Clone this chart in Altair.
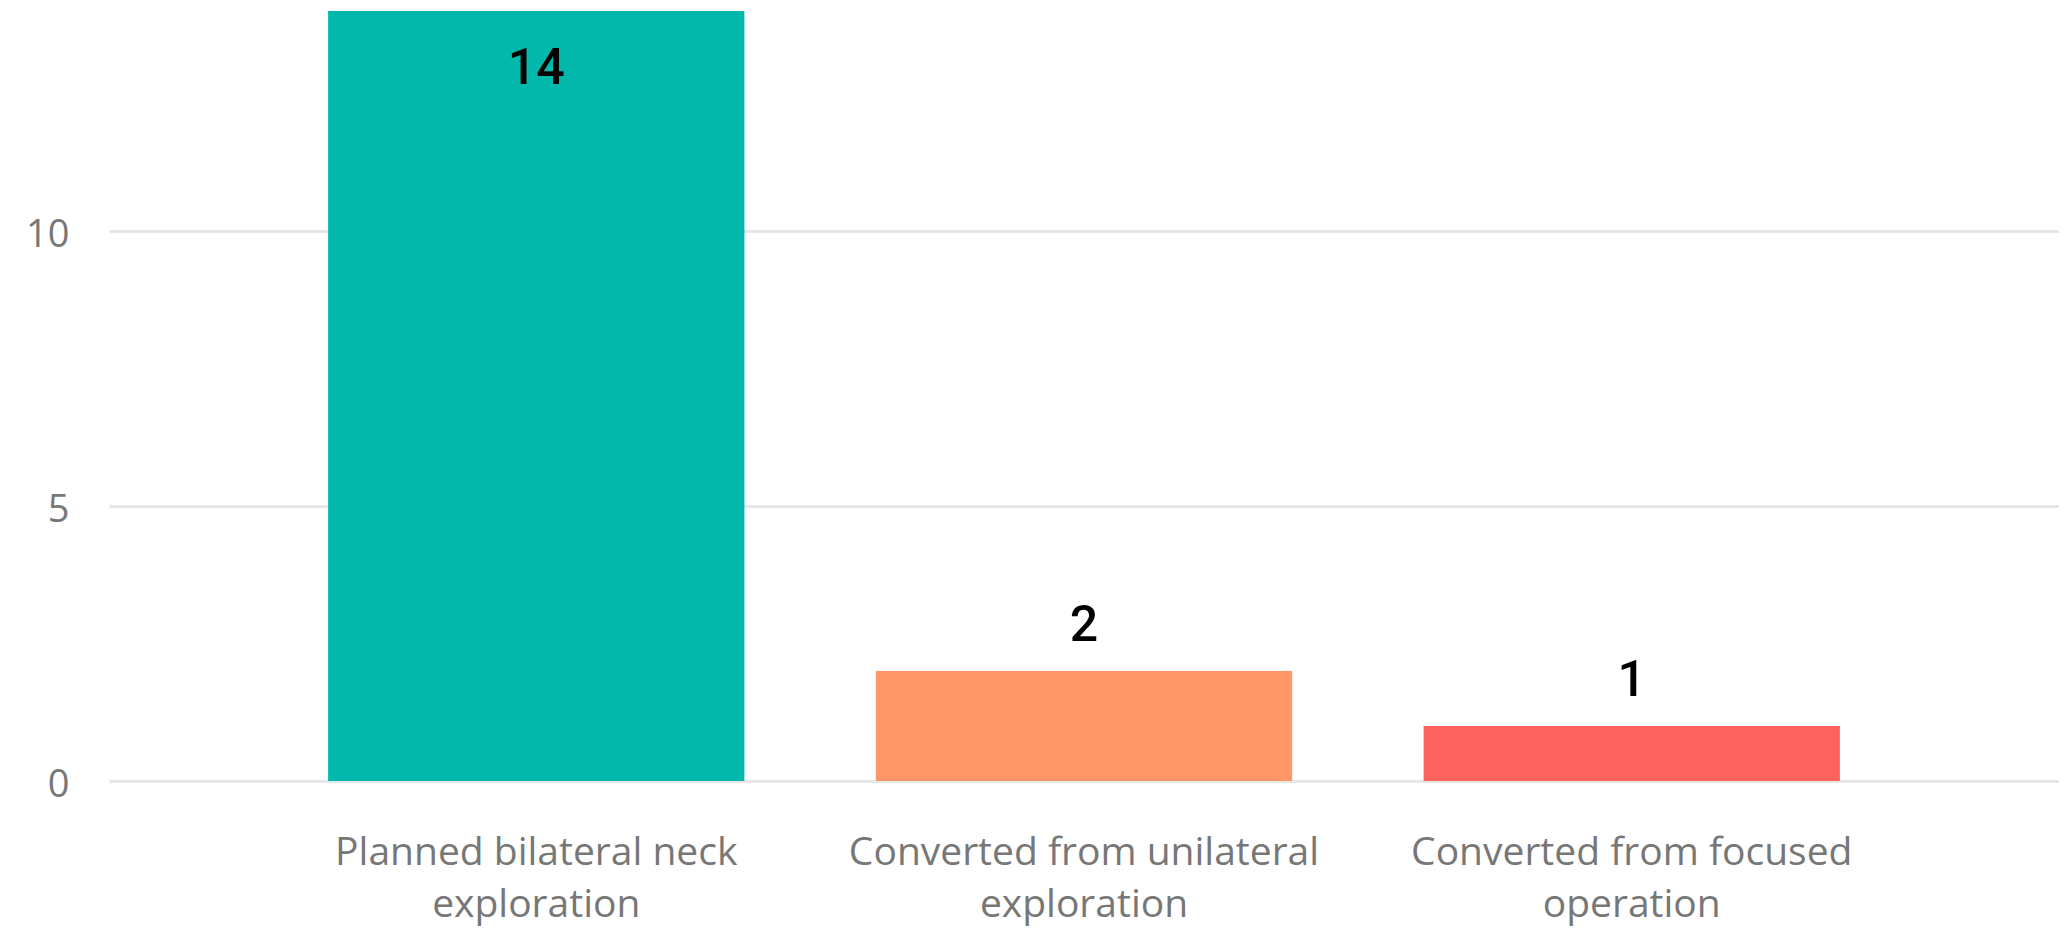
import altair as alt
import pandas as pd

categories = ["Planned bilateral neck exploration",
              "Converted from unilateral exploration",
              "Converted from focused operation"]
label_line1 = ["Planned bilateral neck", "Converted from unilateral", "Converted from focused"]
label_line2 = ["exploration", "exploration", "operation"]
values = [14, 2, 1]
colors = ["#01B8AA", "#FE9666", "#FD625E"]

df = pd.DataFrame({"category": categories, "value": values})

expr_parts = []
for c, a, b in zip(categories, label_line1, label_line2):
    expr_parts.append(f"datum.label == '{c}' ? ['{a}', '{b}']")
label_expr = " : ".join(expr_parts) + " : datum.label"

x = alt.X("category:N", sort=categories, title=None,
          scale=alt.Scale(paddingInner=0.24, paddingOuter=0.4),
          axis=alt.Axis(labelExpr=label_expr, labelAngle=0, labelFont="Open Sans",
                        labelFontSize=39, labelColor="#777777", labelLineHeight=52,
                        labelPadding=52, ticks=False, domain=False, grid=False,
                        labelLimit=800, labelBaseline="top"))
y = alt.Y("value:Q", title=None,
          scale=alt.Scale(domain=[0, 14], nice=False),
          axis=alt.Axis(values=[0, 5, 10], format="d", labelFont="Open Sans", labelFontSize=38,
                        labelColor="#777777", labelPadding=40, labelOffset=4, ticks=False,
                        domain=False, gridColor="#e6e6e6", gridWidth=3))

base = alt.Chart(df)
bars = base.mark_bar().encode(
    x=x, y=y,
    color=alt.Color("category:N", sort=categories,
                    scale=alt.Scale(domain=categories, range=colors), legend=None),
)
text_out = base.transform_filter("datum.value < 12").mark_text(
    font="Roboto", fontSize=50, fontWeight=500, color="black", baseline="alphabetic", dy=-30
).encode(x=alt.X("category:N", sort=categories), y="value:Q", text="value:Q")
text_in = base.transform_filter("datum.value >= 12").mark_text(
    font="Roboto", fontSize=50, fontWeight=500, color="black", baseline="alphabetic", dy=73
).encode(x=alt.X("category:N", sort=categories), y="value:Q", text="value:Q")

chart = alt.layer(bars, text_out, text_in).properties(
    width=1950, height=770,
    autosize=alt.AutoSizeParams(type="none"),
    padding={"left": 101, "top": 3, "right": 0, "bottom": 150},
).configure_view(stroke=None)

chart.save("out.html", embed_options={"renderer": "svg", "actions": False})
